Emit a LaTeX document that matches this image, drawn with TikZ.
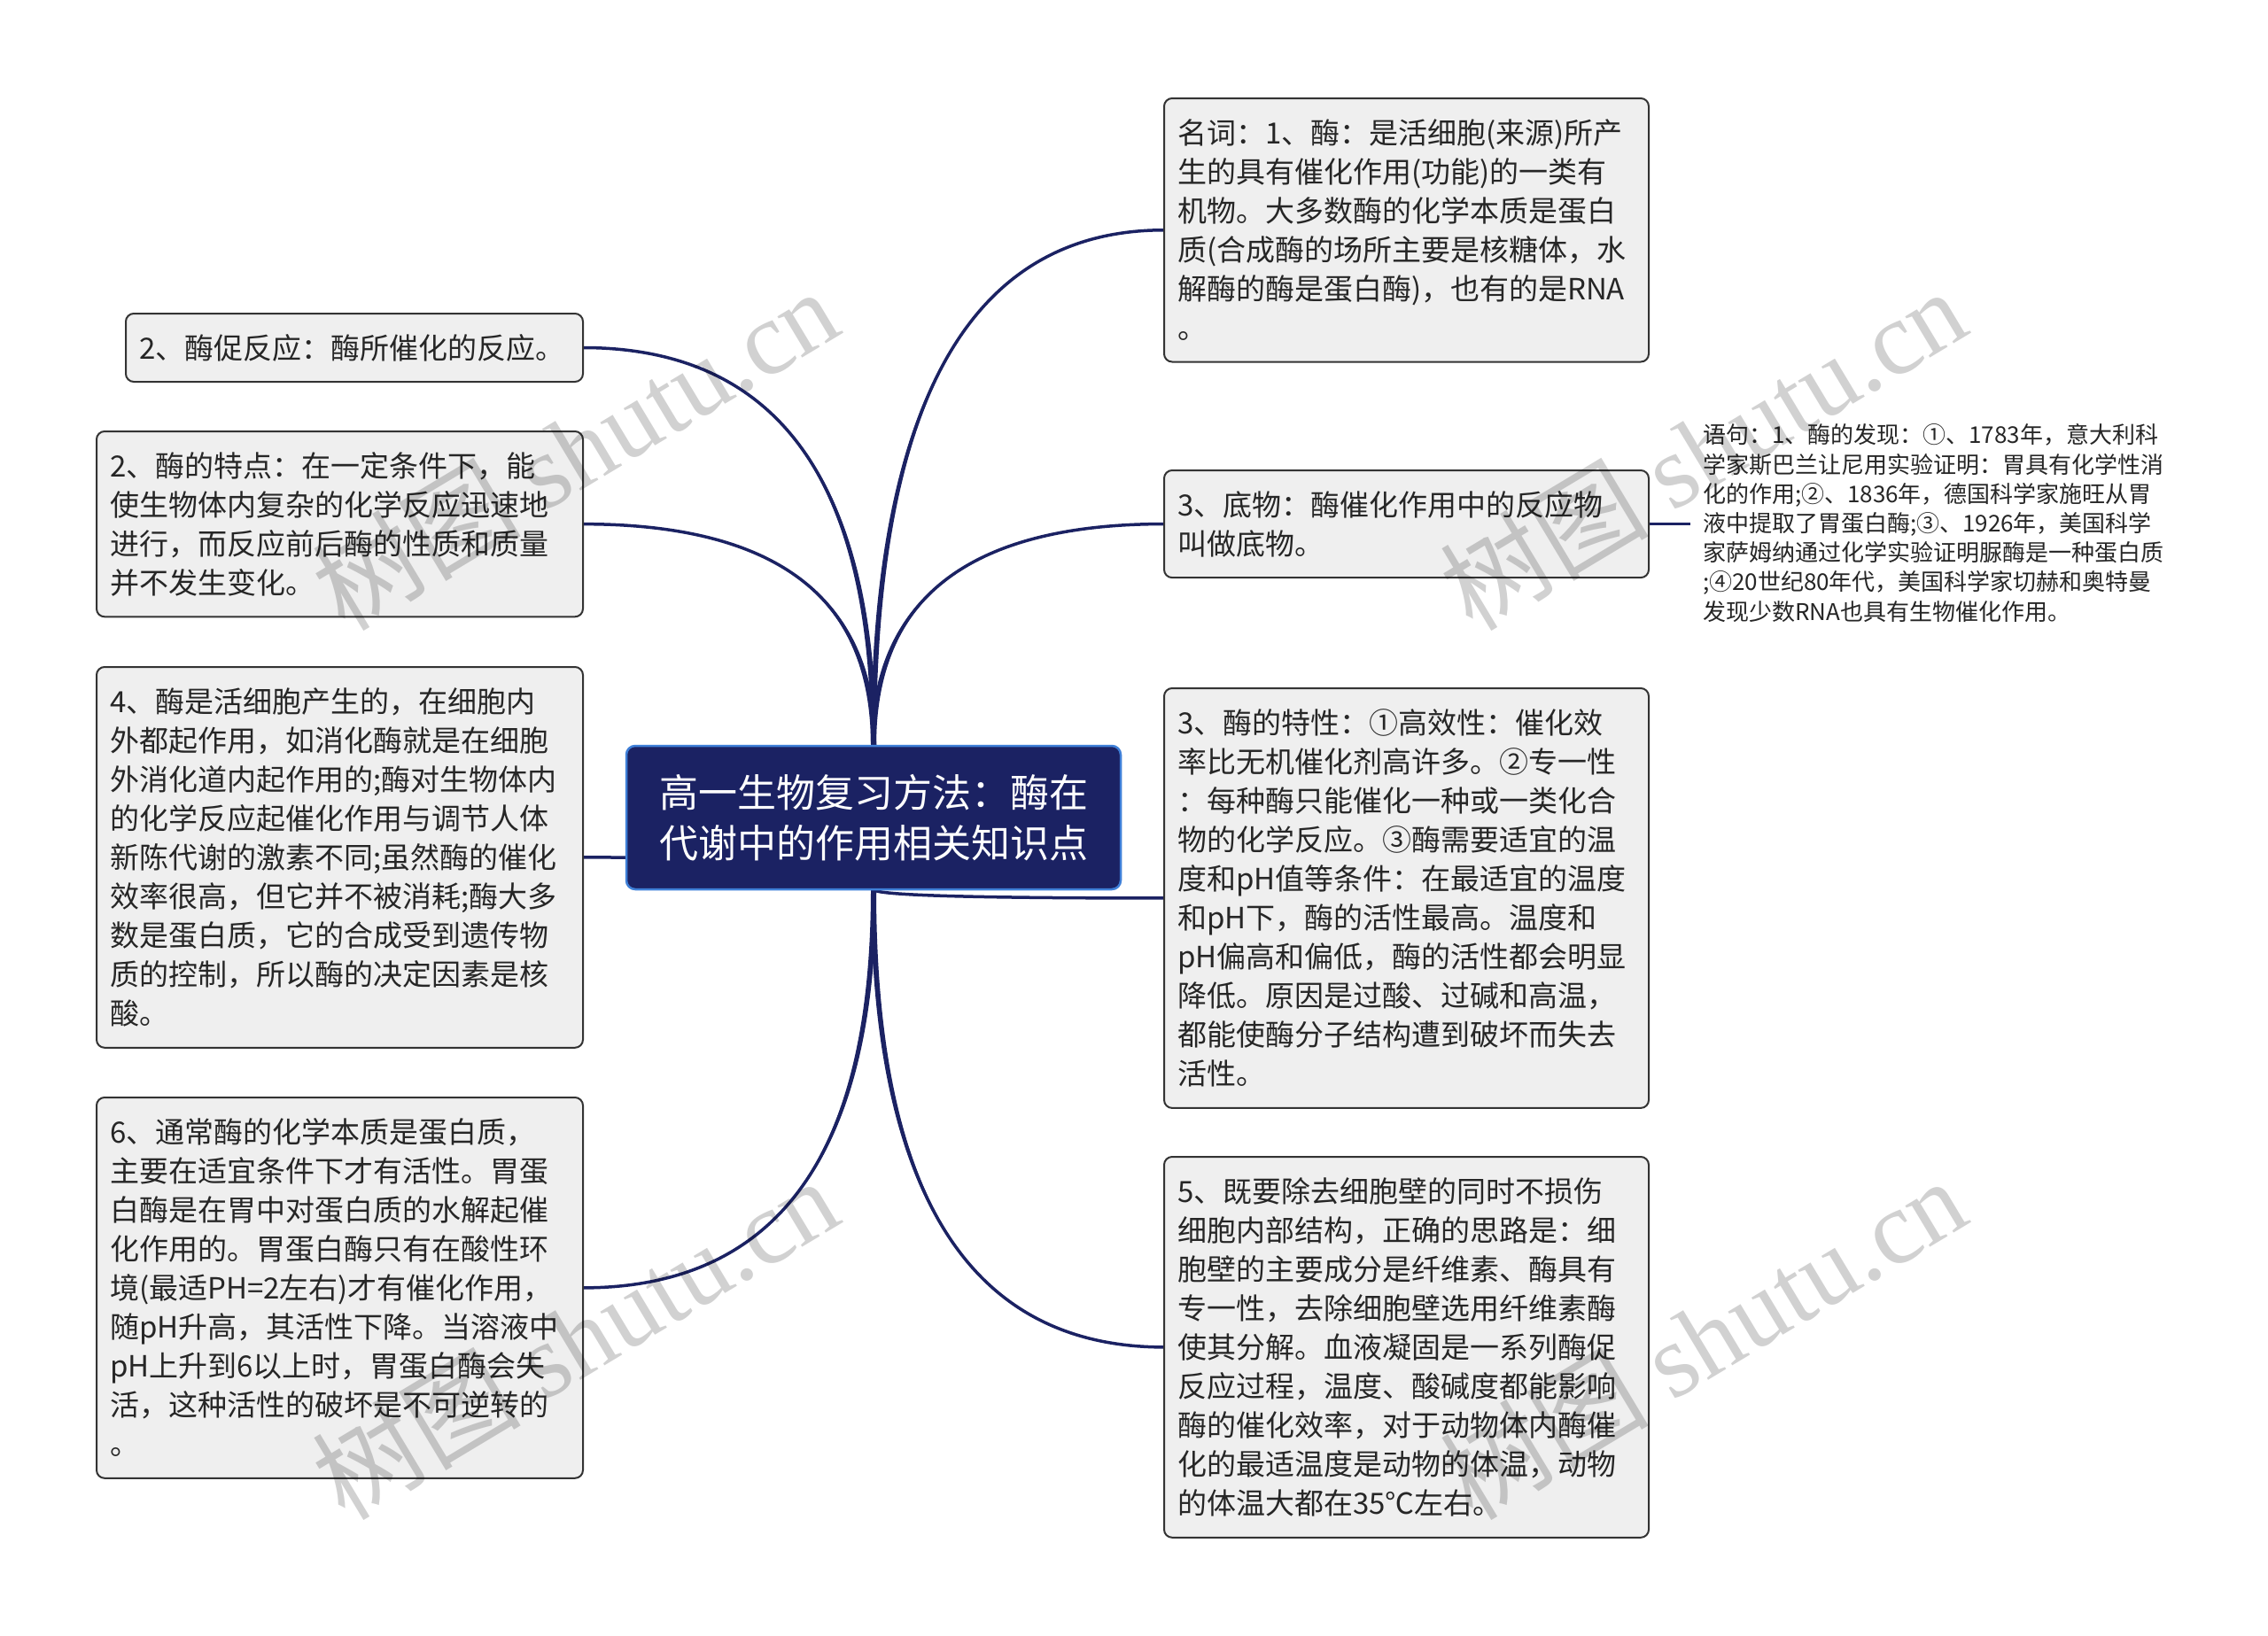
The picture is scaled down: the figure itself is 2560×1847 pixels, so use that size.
\documentclass[tikz,border=0pt]{standalone}
\usepackage{fontspec}
\setmainfont{Noto Sans CJK SC}
\newfontfamily\wmserif{Liberation Serif}
\usetikzlibrary{calc}
\definecolor{navy}{HTML}{1B2263}
\definecolor{lightblue}{HTML}{3F80D8}
\definecolor{boxfill}{HTML}{EFEFEF}
\definecolor{boxdraw}{HTML}{333333}
\definecolor{txt}{HTML}{262626}
\newcommand\stA{\rule[-9.5pt]{0pt}{44pt}}
\newcommand\stB{\rule[-6.7pt]{0pt}{33.2pt}}
\pgfdeclarelayer{bgfill}
\pgfdeclarelayer{bg}
\pgfdeclarelayer{top}
\pgfsetlayers{bgfill,bg,main,top}
\tikzset{
  box/.style={draw=boxdraw, fill=boxfill, line width=2pt, rounded corners=9pt,
    inner xsep=15pt, inner ysep=16.5pt, outer sep=0pt, align=left, text width=#1,
    font=\fontsize{33}{44.1}\selectfont, text=txt, anchor=north west},
  rootbox/.style={draw=lightblue, fill=navy, line width=2.5pt, rounded corners=10pt,
    minimum width=558pt, minimum height=162pt, outer sep=0pt, align=center,
    text=white, font=\fontsize{44}{57}\selectfont},
  link/.style={draw=navy, line width=3.5pt},
  wm/.style={rotate=31, text=black, opacity=0.18, font=\fontsize{118}{120}\selectfont}
}
\newcommand\conn[2]{%
  \coordinate (cc) at (#1 |- #2);
  \coordinate (ca) at ($(#1)!0.6667!(cc)$);
  \coordinate (cb) at ($(#2)!0.6667!(cc)$);
  \fill[navy] ($(#1)+(-3,0)$) .. controls ($(ca)+(-3,0)$) and (cb) .. (#2)
     .. controls (cb) and ($(ca)+(3,0)$) .. ($(#1)+(3,0)$) -- cycle;
  \draw[link] (#1) .. controls (ca) and (cb) .. (#2);
}
\begin{document}
\begin{tikzpicture}[x=1pt,y=-1pt]
\useasboundingbox (0,0) rectangle (2560,1847);
\begin{pgfonlayer}{bgfill}
\fill[white] (0,0) rectangle (2560,1847);
\end{pgfonlayer}

\node[rootbox] (C) at (986,923) {高一生物复习方法：酶在\\代谢中的作用相关知识点};

\node[box=517pt] (R1) at (1314,111) {\stA 名词：1、酶：是活细胞(来源)所产\\\stA 生的具有催化作用(功能)的一类有\\\stA 机物。大多数酶的化学本质是蛋白\\\stA 质(合成酶的场所主要是核糖体，水\\\stA 解酶的酶是蛋白酶)，也有的是RNA\\\stA 。};

\node[box=517pt] (R2) at (1314,531) {\stA 3、底物：酶催化作用中的反应物\\\stA 叫做底物。};

\node[box=517pt] (R3) at (1314,777) {\stA 3、酶的特性：①高效性：催化效\\\stA 率比无机催化剂高许多。②专一性\\\stA ：每种酶只能催化一种或一类化合\\\stA 物的化学反应。③酶需要适宜的温\\\stA 度和pH值等条件：在最适宜的温度\\\stA 和pH下，酶的活性最高。温度和\\\stA pH偏高和偏低，酶的活性都会明显\\\stA 降低。原因是过酸、过碱和高温，\\\stA 都能使酶分子结构遭到破坏而失去\\\stA 活性。};

\node[box=517pt] (R4) at (1314,1306) {\stA 5、既要除去细胞壁的同时不损伤\\\stA 细胞内部结构，正确的思路是：细\\\stA 胞壁的主要成分是纤维素、酶具有\\\stA 专一性，去除细胞壁选用纤维素酶\\\stA 使其分解。血液凝固是一系列酶促\\\stA 反应过程，温度、酸碱度都能影响\\\stA 酶的催化效率，对于动物体内酶催\\\stA 化的最适温度是动物的体温，动物\\\stA 的体温大都在35℃左右。};

\node[box=486pt] (L1) at (142,354) {\stA 2、酶促反应：酶所催化的反应。};

\node[box=519pt] (L2) at (109,487) {\stA 2、酶的特点：在一定条件下，能\\\stA 使生物体内复杂的化学反应迅速地\\\stA 进行，而反应前后酶的性质和质量\\\stA 并不发生变化。};

\node[box=519pt] (L3) at (109,753) {\stA 4、酶是活细胞产生的，在细胞内\\\stA 外都起作用，如消化酶就是在细胞\\\stA 外消化道内起作用的;酶对生物体内\\\stA 的化学反应起催化作用与调节人体\\\stA 新陈代谢的激素不同;虽然酶的催化\\\stA 效率很高，但它并不被消耗;酶大多\\\stA 数是蛋白质，它的合成受到遗传物\\\stA 质的控制，所以酶的决定因素是核\\\stA 酸。};

\node[box=519pt] (L4) at (109,1239) {\stA 6、通常酶的化学本质是蛋白质，\\\stA 主要在适宜条件下才有活性。胃蛋\\\stA 白酶是在胃中对蛋白质的水解起催\\\stA 化作用的。胃蛋白酶只有在酸性环\\\stA 境(最适PH=2左右)才有催化作用，\\\stA 随pH升高，其活性下降。当溶液中\\\stA pH上升到6以上时，胃蛋白酶会失\\\stA 活，这种活性的破坏是不可逆转的\\\stA 。};

\node[anchor=north west, inner xsep=14pt, inner ysep=0pt, outer sep=0pt, align=left,
  text=txt, font=\fontsize{26}{33.2}\selectfont] (S) at (1908,474.4)
  {\stB 语句：1、酶的发现：①、1783年，意大利科\\\stB 学家斯巴兰让尼用实验证明：胃具有化学性消\\\stB 化的作用;②、1836年，德国科学家施旺从胃\\\stB 液中提取了胃蛋白酶;③、1926年，美国科学\\\stB 家萨姆纳通过化学实验证明脲酶是一种蛋白质\\\stB ;④20世纪80年代，美国科学家切赫和奥特曼\\\stB 发现少数RNA也具有生物催化作用。};

\coordinate (rt) at (C.north);
\coordinate (rb) at (C.south);

\begin{pgfonlayer}{bg}
\conn{rt}{R1.west}
\conn{rt}{R2.west}
\conn{rt}{L1.east}
\conn{rt}{L2.east}
\conn{rb}{L3.east}
\conn{rb}{R3.west}
\conn{rb}{R4.west}
\conn{rb}{L4.east}
\draw[link, line width=3pt] (R2.east) -- (R2.east -| S.west);
\end{pgfonlayer}

\begin{pgfonlayer}{top}
\node[wm] (w1) at (649,506) {树图 {\wmserif shutu.cn}};
\node[wm] (w2) at (649,1510) {树图 {\wmserif shutu.cn}};
\node[wm] (w3) at (1922,506) {树图 {\wmserif shutu.cn}};
\node[wm] (w4) at (1922,1510) {树图 {\wmserif shutu.cn}};
\end{pgfonlayer}
\end{tikzpicture}
\end{document}
